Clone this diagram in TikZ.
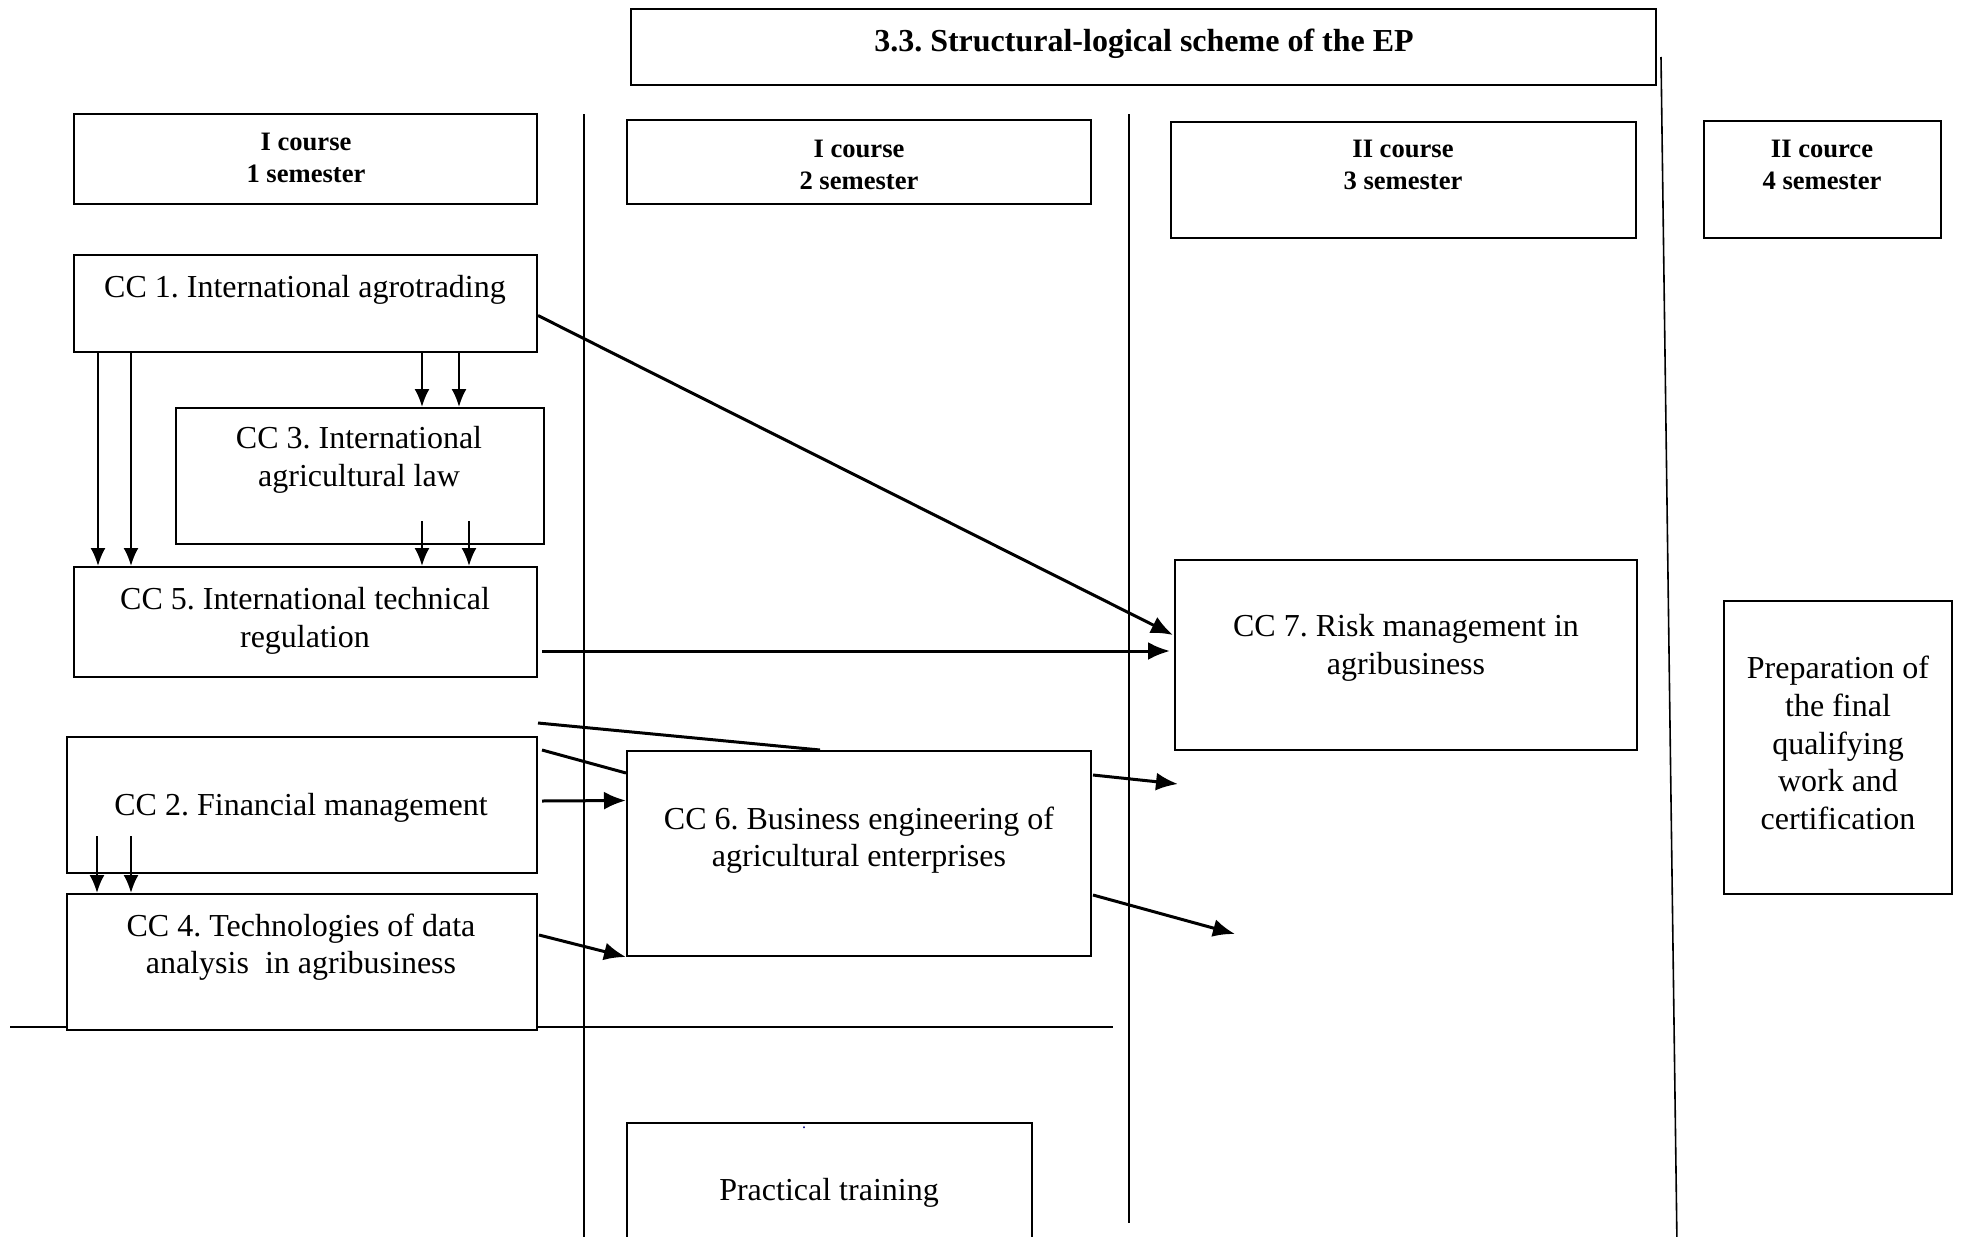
\documentclass[tikz,border=0pt]{standalone}
\usepackage{fontspec}
\setmainfont{Liberation Serif}
\frenchspacing
\usetikzlibrary{arrows.meta,calc,fit}
\tikzset{
  box/.style={draw,fill=white,line width=1pt,inner sep=0pt,fit={#1}},
  txt/.style={align=center,inner sep=0pt,font=\fontsize{16}{18.8}\selectfont},
  head/.style={align=center,inner sep=0pt,font=\fontsize{13.3}{15.6}\selectfont\bfseries},
  arr/.style={-{Latex[length=11pt,width=9pt]},line width=1.5pt},
  varr/.style={-{Latex[length=9pt,width=7.5pt]},line width=1.1pt},
  link/.style={line width=1.5pt},
  sep/.style={line width=0.8pt}
}
\begin{document}
\begin{tikzpicture}[x=0.5pt,y=-0.5pt]
\useasboundingbox (0,0) rectangle (1961,1237);
% separators
\draw[sep](584,114)--(584,1245);
\draw[sep](1129,114)--(1129,1223);
\draw[sep](1661,57)--(1677,1245);
\draw[sep](10,1027)--(1113,1027);
% title and semesters
\node[box={(631,9) (1656,85)}](title){};
\node[head,font=\fontsize{16}{19}\selectfont\bfseries](titlet) at (1144,44){3.3. Structural-logical scheme of the EP};
\node[box={(74,114) (537,204)}](sem1){};
\node[head](sem1t) at (306,158){I course\\1 semester};
\node[box={(627,120) (1091,204)}](sem2){};
\node[head](sem2t) at (859,165){I course\\2 semester};
\node[box={(1171,122) (1636,238)}](sem3){};
\node[head](sem3t) at (1403,165){II course\\3 semester};
\node[box={(1704,121) (1941,238)}](sem4){};
\node[head](sem4t) at (1822,165){II cource\\4 semester};
% disciplines
\node[box={(74,255) (537,352)}](cc1){};
\node[txt](cc1t) at (305,290){CC 1. International agrotrading};
\node[box={(176,408) (544,544)}](cc3){};
\node[txt](cc3t) at (359,460){CC 3. International\\agricultural law};
\node[box={(74,567) (537,677)}](cc5){};
\node[txt](cc5t) at (305,621){CC 5. International technical\\regulation};
\node[box={(67,737) (537,873)}](cc2){};
\node[txt](cc2t) at (301,808){CC 2. Financial management};
\node[box={(67,894) (537,1030)}](cc4){};
\node[txt](cc4t) at (301,947){CC 4. Technologies of data\\analysis\ \ in agribusiness};
\node[box={(627,751) (1091,956)}](cc6){};
\node[txt](cc6t) at (859,840){CC 6. Business engineering of\\agricultural enterprises};
\node[box={(1175,560) (1637,750)}](cc7){};
\node[txt](cc7t) at (1406,648){CC 7. Risk management in\\agribusiness};
\node[box={(1724,601) (1952,894)}](prep){};
\node[txt](prept) at (1838,743){Preparation of\\the final\\qualifying\\work and\\certification};
\node[box={(627,1123) (1032,1250)}](prac){};
\node[txt,font=\fontsize{8}{8}\selectfont,text=blue!50!black](pracdot) at (804,1128){.};
\node[txt](pract) at (829,1193){Practical training};
% links
\draw[varr]($(cc1.south west)+(25,0)$)--($(cc5.north west)+(25,0)$);
\draw[varr]($(cc1.south west)+(58,0)$)--($(cc5.north west)+(58,0)$);
\draw[varr]($(cc1.south west)+(349,0)$)--($(cc3.north west)+(247,0)$);
\draw[varr]($(cc1.south west)+(386,0)$)--($(cc3.north west)+(284,0)$);
\draw[varr]($(cc3.south west)+(247,-24)$)--($(cc5.north west)+(349,0)$);
\draw[varr]($(cc3.south west)+(294,-24)$)--($(cc5.north west)+(396,0)$);
\draw[arr]($(cc1.east)+(0,12)$)--($(cc7.west)+(-1,-20)$);
\draw[arr]($(cc5.east)+(4,29)$)--($(cc7.west)+(-4,-4)$);
\draw[link]($(cc2.north east)+(0,-13)$)--($(cc6.north west)+(194,0)$);
\draw[link]($(cc2.north east)+(4,14)$)--($(cc6.north west)+(0,23)$);
\draw[arr]($(cc2.east)+(4,-4)$)--($(cc6.west)+(0,-53)$);
\draw[varr]($(cc2.south west)+(31,-38)$)--($(cc4.north west)+(31,0)$);
\draw[varr]($(cc2.south west)+(65,-38)$)--($(cc4.north west)+(65,0)$);
\draw[arr]($(cc4.east)+(1,-27)$)--(cc6.south west);
\coordinate(out1) at (1178,784);
\coordinate(out2) at (1235,934);
\draw[arr]($(cc6.north east)+(1,25)$)--(out1);
\draw[arr]($(cc6.north east)+(1,145)$)--(out2);
\end{tikzpicture}
\end{document}
